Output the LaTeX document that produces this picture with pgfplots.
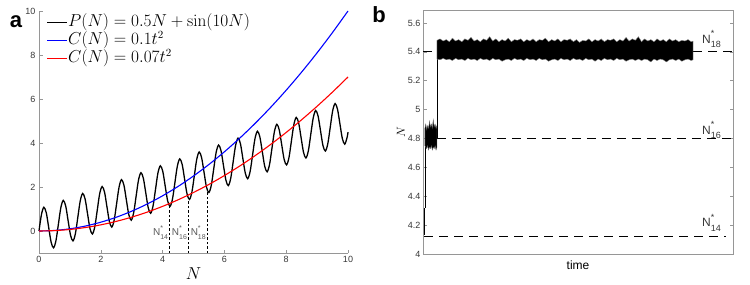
\documentclass[border=0pt]{standalone}
\usepackage{pgfplots}
\pgfplotsset{compat=1.18}
\usepackage[no-math]{fontspec}
\setmainfont{Liberation Sans}
\definecolor{axgray}{RGB}{150,150,150}
\definecolor{txgray}{RGB}{55,55,55}
\definecolor{lblgray}{RGB}{90,90,90}
\definecolor{mblue}{RGB}{0,0,255}
\definecolor{mred}{RGB}{255,0,0}
\newcommand{\Nst}[2]{N\makebox[0pt][l]{\raisebox{1.0ex}{\fontsize{#2}{#2}\selectfont *}}\raisebox{-0.7ex}{\fontsize{#2}{#2}\selectfont #1}}
\newcommand{\legline}[1]{\textcolor{#1}{\rule[3.55pt]{20pt}{1.1pt}}\hspace{1pt}}
\begin{document}
\begin{tikzpicture}[x=1pt,y=1pt]
\path[use as bounding box] (0,0) rectangle (750,284);
\begin{axis}[
  at={(39pt,31pt)}, anchor=south west, scale only axis,
  width=309pt, height=242pt,
  xmin=0, xmax=10, ymin=-1, ymax=10,
  axis lines=left, axis line style={-, draw=axgray, line width=0.6pt},
  xtick={0,2,4,6,8,10}, ytick={0,2,4,6,8,10},
  tick style={draw=axgray, line width=0.5pt}, tick align=inside, major tick length=3.5pt,
  ticklabel style={font=\fontsize{9}{10}\selectfont, text=txgray},
  /pgf/number format/assume math mode=true,
  xlabel={$N$}, xlabel style={font=\fontsize{16}{18}\selectfont, yshift=2pt},
  clip=false,
]
\addplot[draw=black, line width=1.3pt, smooth] coordinates {
(0.000,0.000) (0.079,0.746) (0.157,1.079) (0.236,0.825) (0.314,0.157) (0.393,-0.511) (0.471,-0.764) (0.550,-0.432)
(0.628,0.314) (0.707,1.061) (0.785,1.393) (0.864,1.139) (0.942,0.471) (1.021,-0.196) (1.100,-0.450) (1.178,-0.118)
(1.257,0.628) (1.335,1.375) (1.414,1.707) (1.492,1.453) (1.571,0.785) (1.649,0.118) (1.728,-0.136) (1.806,0.196)
(1.885,0.942) (1.963,1.689) (2.042,2.021) (2.121,1.767) (2.199,1.100) (2.278,0.432) (2.356,0.178) (2.435,0.510)
(2.513,1.257) (2.592,2.003) (2.670,2.335) (2.749,2.081) (2.827,1.414) (2.906,0.746) (2.985,0.492) (3.063,0.825)
(3.142,1.571) (3.220,2.317) (3.299,2.649) (3.377,2.396) (3.456,1.728) (3.534,1.060) (3.613,0.806) (3.691,1.139)
(3.770,1.885) (3.848,2.631) (3.927,2.963) (4.006,2.710) (4.084,2.042) (4.163,1.374) (4.241,1.121) (4.320,1.453)
(4.398,2.199) (4.477,2.945) (4.555,3.278) (4.634,3.024) (4.712,2.356) (4.791,1.688) (4.869,1.435) (4.948,1.767)
(5.027,2.513) (5.105,3.260) (5.184,3.592) (5.262,3.338) (5.341,2.670) (5.419,2.003) (5.498,1.749) (5.576,2.081)
(5.655,2.827) (5.733,3.574) (5.812,3.906) (5.890,3.652) (5.969,2.985) (6.048,2.317) (6.126,2.063) (6.205,2.395)
(6.283,3.142) (6.362,3.888) (6.440,4.220) (6.519,3.967) (6.597,3.299) (6.676,2.631) (6.754,2.377) (6.833,2.710)
(6.912,3.456) (6.990,4.202) (7.069,4.534) (7.147,4.281) (7.226,3.613) (7.304,2.945) (7.383,2.691) (7.461,3.024)
(7.540,3.770) (7.618,4.516) (7.697,4.848) (7.775,4.595) (7.854,3.927) (7.933,3.259) (8.011,3.006) (8.090,3.338)
(8.168,4.084) (8.247,4.830) (8.325,5.163) (8.404,4.909) (8.482,4.241) (8.561,3.573) (8.639,3.320) (8.718,3.652)
(8.796,4.398) (8.875,5.144) (8.954,5.477) (9.032,5.223) (9.111,4.555) (9.189,3.888) (9.268,3.634) (9.346,3.966)
(9.425,4.712) (9.503,5.459) (9.582,5.791) (9.660,5.537) (9.739,4.869) (9.817,4.202) (9.896,3.948) (9.975,4.280)
(10.000,4.494)
};
\addplot[draw=mblue, line width=1.1pt, smooth] coordinates {
(0,0) (0.5,0.025) (1,0.1) (1.5,0.225) (2,0.4) (2.5,0.625) (3,0.9) (3.5,1.225) (4,1.6) (4.5,2.025) (5,2.5)
(5.5,3.025) (6,3.6) (6.5,4.225) (7,4.9) (7.5,5.625) (8,6.4) (8.5,7.225) (9,8.1) (9.5,9.025) (10,10)
};
\addplot[draw=mred, line width=1.1pt, smooth] coordinates {
(0,0) (0.5,0.0175) (1,0.07) (1.5,0.1575) (2,0.28) (2.5,0.4375) (3,0.63) (3.5,0.8575) (4,1.12) (4.5,1.4175) (5,1.75)
(5.5,2.1175) (6,2.52) (6.5,2.9575) (7,3.43) (7.5,3.9375) (8,4.48) (8.5,5.0575) (9,5.67) (9.5,6.3175) (10,7)
};
\addplot[black, line width=0.8pt, dash pattern=on 2.5pt off 2pt] coordinates {(4.22,-1) (4.22,1.24)};
\addplot[black, line width=0.8pt, dash pattern=on 2.5pt off 2pt] coordinates {(4.83,-1) (4.83,1.50)};
\addplot[black, line width=0.8pt, dash pattern=on 2.5pt off 2pt] coordinates {(5.44,-1) (5.44,1.80)};
\node[anchor=base east, text=lblgray, font=\fontsize{10}{10}\selectfont, inner sep=0.5pt] at (axis cs:4.20,-0.2) {\Nst{14}{7}};
\node[anchor=base east, text=lblgray, font=\fontsize{10}{10}\selectfont, inner sep=0.5pt] at (axis cs:4.81,-0.2) {\Nst{16}{7}};
\node[anchor=base east, text=lblgray, font=\fontsize{10}{10}\selectfont, inner sep=0.5pt] at (axis cs:5.42,-0.2) {\Nst{18}{7}};
\end{axis}
\node[anchor=base west, inner sep=0pt, font=\fontsize{16.3}{18}\selectfont] at (47,257.5) {\legline{black}$P(N)=0.5N+\sin(10N)$};
\node[anchor=base west, inner sep=0pt, font=\fontsize{16.3}{18}\selectfont] at (47,239.5) {\legline{mblue}$C(N)=0.1t^2$};
\node[anchor=base west, inner sep=0pt, font=\fontsize{16.3}{18}\selectfont] at (47,221) {\legline{mred}$C(N)=0.07t^2$};
\node[font=\bfseries\fontsize{22}{24}\selectfont] at (16,262) {a};
\node[font=\bfseries\fontsize{22}{24}\selectfont] at (379,269) {b};
\begin{axis}[
  at={(423pt,30pt)}, anchor=south west, scale only axis,
  width=310pt, height=244pt,
  xmin=0, xmax=100, ymin=4, ymax=5.69,
  axis line style={draw=axgray, line width=0.6pt},
  xtick=\empty, ytick={4,4.2,4.4,4.6,4.8,5,5.2,5.4,5.6},
  yticklabels={4,4.2,4.4,4.6,4.8,5,5.2,5.4,5.6},
  ytick pos=both,
  tick style={draw=axgray, line width=0.5pt}, tick align=inside, major tick length=3.5pt,
  ticklabel style={font=\fontsize{9}{10}\selectfont, text=txgray},
  yticklabel style={xshift=1pt},
  xlabel={time}, xlabel style={font=\fontsize{12}{14}\selectfont, yshift=-3pt},
  ylabel={$N$}, ylabel style={font=\fontsize{13}{14}\selectfont, yshift=-4pt},
  clip=false,
]
\addplot[black, line width=0.8pt, dash pattern=on 9pt off 6pt] coordinates {(0,5.4) (100,5.4)};
\addplot[black, line width=0.8pt, dash pattern=on 9pt off 6pt] coordinates {(4.5,4.8) (100,4.8)};
\addplot[black, line width=0.8pt, dash pattern=on 9pt off 6pt] coordinates {(0.4,4.12) (97.7,4.12)};
\addplot[black, line width=0.8pt] coordinates {(0.4,4.13) (0.4,4.32)};
\addplot[black, line width=0.5pt] coordinates {(0.6,4.32) (0.6,4.8)};
\addplot[fill=black, draw=black!60, line width=0.3pt] coordinates {
(0.6,4.87) (0.9,4.90) (1.2,4.86) (1.5,4.89) (1.8,4.87) (2.1,4.92) (2.4,4.88) (2.7,4.90) (3.0,4.87) (3.3,4.93) (3.6,4.88) (3.9,4.90) (4.2,4.87) (4.5,4.89)
(4.5,4.74) (4.2,4.72) (3.9,4.75) (3.6,4.73) (3.3,4.74) (3.0,4.72) (2.7,4.75) (2.4,4.73) (2.1,4.74) (1.8,4.72) (1.5,4.75) (1.2,4.73) (0.9,4.74) (0.6,4.75)
} -- cycle;
\addplot[black, line width=0.5pt] coordinates {(4.5,4.8) (4.5,5.4)};
\addplot[fill=black, draw=black!45, line width=0.35pt] coordinates {
(4.5,5.48) (5.5,5.49) (6.5,5.475) (7.5,5.485) (8.5,5.47) (9.5,5.495) (10.5,5.475) (11.5,5.485) (12.5,5.47) (13.5,5.49)
(14.5,5.48) (15.5,5.50) (16.5,5.475) (17.5,5.485) (18.5,5.47) (19.5,5.49) (20.5,5.48) (21.5,5.505) (22.5,5.475) (23.5,5.49)
(24.5,5.47) (25.5,5.485) (26.5,5.475) (27.5,5.495) (28.5,5.47) (29.5,5.485) (30.5,5.48) (31.5,5.49) (32.5,5.47) (33.5,5.485)
(34.5,5.475) (35.5,5.49) (36.5,5.47) (37.5,5.485) (38.5,5.48) (39.5,5.495) (40.5,5.47) (41.5,5.485) (42.5,5.475) (43.5,5.49)
(44.5,5.47) (45.5,5.485) (46.5,5.48) (47.5,5.49) (48.5,5.47) (49.5,5.485) (50.5,5.465) (51.5,5.48) (52.5,5.475) (53.5,5.49)
(54.5,5.47) (55.5,5.485) (56.5,5.475) (57.5,5.49) (58.5,5.47) (59.5,5.485) (60.5,5.48) (61.5,5.49) (62.5,5.47) (63.5,5.485)
(64.5,5.475) (65.5,5.50) (66.5,5.475) (67.5,5.49) (68.5,5.48) (69.5,5.505) (70.5,5.47) (71.5,5.49) (72.5,5.475) (73.5,5.485)
(74.5,5.47) (75.5,5.49) (76.5,5.475) (77.5,5.485) (78.5,5.47) (79.5,5.49) (80.5,5.475) (81.5,5.485) (82.5,5.47) (83.5,5.48)
(84.5,5.475) (85.5,5.485) (86.5,5.47) (87.1,5.475)
(87.1,5.345) (86.5,5.34) (85.5,5.35) (84.5,5.345) (83.5,5.335) (82.5,5.35) (81.5,5.34) (80.5,5.35) (79.5,5.345) (78.5,5.33)
(77.5,5.345) (76.5,5.35) (75.5,5.34) (74.5,5.35) (73.5,5.33) (72.5,5.345) (71.5,5.35) (70.5,5.34) (69.5,5.35) (68.5,5.34)
(67.5,5.35) (66.5,5.345) (65.5,5.335) (64.5,5.35) (63.5,5.345) (62.5,5.355) (61.5,5.34) (60.5,5.35) (59.5,5.345) (58.5,5.355)
(57.5,5.34) (56.5,5.35) (55.5,5.335) (54.5,5.35) (53.5,5.345) (52.5,5.355) (51.5,5.34) (50.5,5.35) (49.5,5.345) (48.5,5.355)
(47.5,5.34) (46.5,5.35) (45.5,5.345) (44.5,5.355) (43.5,5.34) (42.5,5.35) (41.5,5.345) (40.5,5.335) (39.5,5.35) (38.5,5.345)
(37.5,5.355) (36.5,5.34) (35.5,5.35) (34.5,5.345) (33.5,5.355) (32.5,5.34) (31.5,5.35) (30.5,5.345) (29.5,5.355) (28.5,5.34)
(27.5,5.35) (26.5,5.345) (25.5,5.335) (24.5,5.35) (23.5,5.345) (22.5,5.355) (21.5,5.34) (20.5,5.35) (19.5,5.345) (18.5,5.355)
(17.5,5.34) (16.5,5.35) (15.5,5.345) (14.5,5.355) (13.5,5.34) (12.5,5.35) (11.5,5.345) (10.5,5.355) (9.5,5.34) (8.5,5.35)
(7.5,5.345) (6.5,5.355) (5.5,5.345) (4.5,5.35)
} -- cycle;
\node[anchor=base west, text=txgray, font=\fontsize{12}{12}\selectfont, inner sep=0pt] at (axis cs:90,5.46) {\Nst{18}{9}};
\node[anchor=base west, text=txgray, font=\fontsize{12}{12}\selectfont, inner sep=0pt] at (axis cs:90,4.83) {\Nst{16}{9}};
\node[anchor=base west, text=txgray, font=\fontsize{12}{12}\selectfont, inner sep=0pt] at (axis cs:90,4.19) {\Nst{14}{9}};
\end{axis}
\end{tikzpicture}
\end{document}
